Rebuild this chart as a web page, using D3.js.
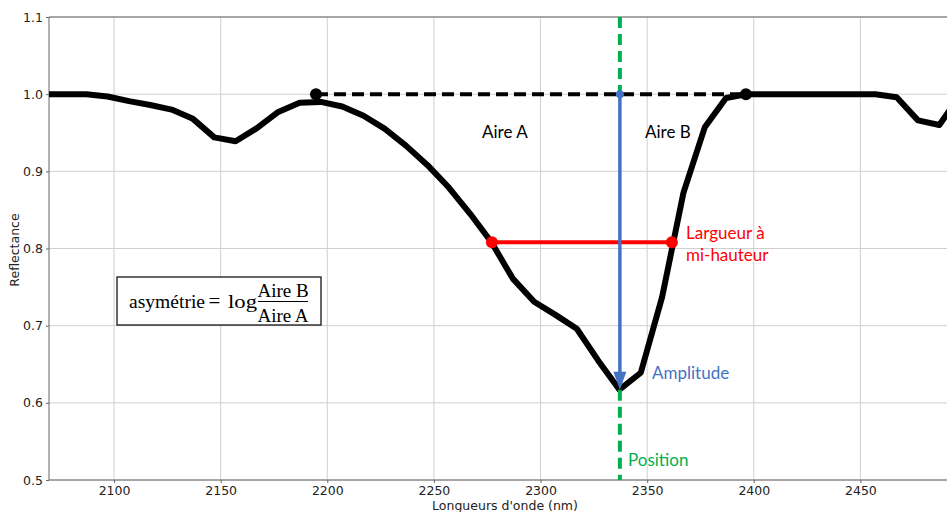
<!DOCTYPE html>
<html><head><meta charset="utf-8">
<script src="https://cdn.jsdelivr.net/npm/d3@7"></script>
<style>body{margin:0;background:#fff}svg{display:block}</style>
</head><body><svg id="c" width="947" height="512"></svg>
<script>
const wavelengths = [2067,2077,2087,2097,2107,2117,2127,2137,2147,2157,2167,2177,2187,2197,2207,2217,2227,2237,2247,2257,2267,2277,2287,2297,2307,2317,2327,2337,2347,2357,2367,2377,2387,2397,2407,2417,2427,2437,2447,2457,2467,2477,2487,2497];
const reflectance = [1.0,1.0,1.0,0.997,0.991,0.986,0.980,0.968,0.944,0.939,0.956,0.977,0.989,0.990,0.984,0.972,0.955,0.933,0.908,0.879,0.845,0.808,0.761,0.731,0.714,0.696,0.655,0.617,0.639,0.737,0.872,0.957,0.995,1.0,1.0,1.0,1.0,1.0,1.0,1.0,0.996,0.966,0.960,1.0];
const shoulderX = [2194.7, 2396.3];
const shoulderY = 1.0;
const fwhmX = [2277.2, 2361.6];
const fwhmY = 0.808;
const positionX = 2337.2;
const amplitudeY = [1.0, 0.617];
const xTicks = [2100,2150,2200,2250,2300,2350,2400,2450];
const yTicks = [0.5,0.6,0.7,0.8,0.9,1.0,1.1];

const svg = d3.select("#c");
const L=49, R=947, T=17, B=480;
const x = d3.scaleLinear().domain([2069.5, 2490.6]).range([L, R]);
const y = d3.scaleLinear().domain([0.5, 1.1]).range([B, T]);

svg.append("defs").append("clipPath").attr("id","clip")
  .append("rect").attr("x",L).attr("y",T-10).attr("width",R-L).attr("height",B-T+10);

// grid
const g = svg.append("g");
g.selectAll(".gx").data(xTicks).join("line")
  .attr("x1",d=>x(d)).attr("x2",d=>x(d)).attr("y1",T).attr("y2",B)
  .attr("stroke","#cfcfcf").attr("stroke-width",1);
g.selectAll(".gy").data(yTicks).join("line")
  .attr("x1",L).attr("x2",R).attr("y1",d=>y(d)).attr("y2",d=>y(d))
  .attr("stroke","#cfcfcf").attr("stroke-width",1);

// axes
const xAxis = svg.append("g").attr("transform",`translate(0,${B})`)
  .call(d3.axisBottom(x).tickValues(xTicks).tickSize(3).tickPadding(3).tickFormat(d3.format("d")));
const yAxis = svg.append("g").attr("transform",`translate(${L},0)`)
  .call(d3.axisLeft(y).tickValues(yTicks).tickSize(3).tickPadding(3).tickFormat(d3.format(".1f")));
[xAxis,yAxis].forEach(a=>{
  a.select(".domain").remove();
  a.selectAll("line").attr("stroke","#666");
  a.selectAll("text").attr("font-family","DejaVu Sans").attr("font-size",12.5).attr("fill","#222");
});
// spines
svg.append("line").attr("x1",L).attr("x2",R).attr("y1",B).attr("y2",B).attr("stroke","#666").attr("stroke-width",1);
svg.append("line").attr("x1",L).attr("x2",R).attr("y1",T).attr("y2",T).attr("stroke","#666").attr("stroke-width",1);
svg.append("line").attr("x1",L).attr("x2",L).attr("y1",T).attr("y2",B).attr("stroke","#666").attr("stroke-width",1);

svg.append("text").attr("x",505).attr("y",510).attr("text-anchor","middle")
  .attr("font-family","DejaVu Sans").attr("font-size",12.5).attr("fill","#222").text("Longueurs d'onde (nm)");
svg.append("text").attr("transform","translate(19,250) rotate(-90)").attr("text-anchor","middle")
  .attr("font-family","DejaVu Sans").attr("font-size",12.5).attr("fill","#222").text("Reflectance");

const plot = svg.append("g").attr("clip-path","url(#clip)");
const line = d3.line().x((d,i)=>x(wavelengths[i])).y(d=>y(d));
plot.append("path").datum(reflectance).attr("d",line)
  .attr("fill","none").attr("stroke","#000").attr("stroke-width",6).attr("stroke-linejoin","round");

// dashed baseline
plot.append("line").attr("x1",x(shoulderX[0])).attr("x2",x(shoulderX[1]))
  .attr("y1",y(shoulderY)).attr("y2",y(shoulderY))
  .attr("stroke","#000").attr("stroke-width",4).attr("stroke-dasharray","12,6");

// FWHM
plot.append("line").attr("x1",x(fwhmX[0])).attr("x2",x(fwhmX[1]))
  .attr("y1",y(fwhmY)).attr("y2",y(fwhmY)).attr("stroke","#ff0000").attr("stroke-width",4);
plot.selectAll(".rd").data(fwhmX).join("circle").attr("cx",d=>x(d)).attr("cy",y(fwhmY)).attr("r",6).attr("fill","#ff0000");

// position green dashed (two segments)
plot.append("line").attr("x1",x(positionX)).attr("x2",x(positionX)).attr("y1",T).attr("y2",y(amplitudeY[0]))
  .attr("stroke","#00b050").attr("stroke-width",4).attr("stroke-dasharray","11,6");
plot.append("line").attr("x1",x(positionX)).attr("x2",x(positionX)).attr("y1",y(amplitudeY[1])).attr("y2",B)
  .attr("stroke","#00b050").attr("stroke-width",4).attr("stroke-dasharray","11,6");

// amplitude arrow
const ax = x(positionX), ay0 = y(amplitudeY[0]), ay1 = y(amplitudeY[1]);
plot.append("line").attr("x1",ax).attr("x2",ax).attr("y1",ay0).attr("y2",ay1-14)
  .attr("stroke","#4472c4").attr("stroke-width",3.5);
plot.append("path").attr("d",`M${ax-6.5},${ay1-18} L${ax+6.5},${ay1-18} L${ax},${ay1} Z`).attr("fill","#4472c4");
plot.append("circle").attr("cx",ax).attr("cy",ay0).attr("r",4).attr("fill","#4472c4");

// shoulder dots
plot.selectAll(".bd").data(shoulderX).join("circle").attr("cx",d=>x(d)).attr("cy",y(shoulderY)).attr("r",6).attr("fill","#000");

// annotations
const ann = (tx,ty,txt,col)=>svg.append("text").attr("x",tx).attr("y",ty)
  .attr("font-family","Lato").attr("font-size",17).attr("fill",col).text(txt);
ann(482,138,"Aire A","#000");
ann(645,138,"Aire B","#000");
ann(686,239,"Largueur à","#ff0000");
ann(686,261,"mi-hauteur","#ff0000");
ann(652,379,"Amplitude","#4472c4");
ann(628,466,"Position","#00b050");

// formula box
svg.append("rect").attr("x",117).attr("y",277).attr("width",204).attr("height",48)
  .attr("fill","#fff").attr("stroke","#000").attr("stroke-width",1.2);
const ser = (tx,ty,txt,anchor,len,fs)=>{
  const t = svg.append("text").attr("x",tx).attr("y",ty).attr("text-anchor",anchor||"start")
    .attr("font-family","Liberation Serif").attr("font-size",fs||19).attr("fill","#000").text(txt);
  if(len) t.attr("textLength",len).attr("lengthAdjust","spacingAndGlyphs");
  return t;
};
ser(129,308,"asymétrie",null,76);
ser(214.5,308,"=","middle",null,21);
ser(228,308,"log",null,29);
ser(283,297,"Aire B","middle");
ser(283,322,"Aire A","middle");
svg.append("line").attr("x1",258).attr("x2",308).attr("y1",301.5).attr("y2",301.5).attr("stroke","#000").attr("stroke-width",1);
</script></body></html>
